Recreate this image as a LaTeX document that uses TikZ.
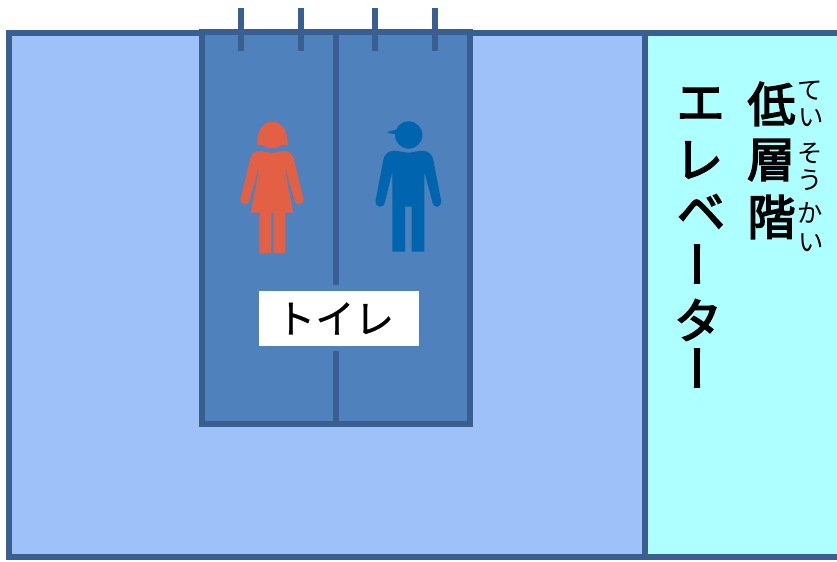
\documentclass[tikz,border=0pt]{standalone}
\usepackage{fontspec}
\setmainfont{Noto Sans CJK JP}
\newfontfamily\jpb[FakeBold=3.2]{Noto Sans CJK JP}
\newfontfamily\jpm[FakeBold=0.8]{Noto Sans CJK JP}
\definecolor{wallfill}{HTML}{9FC1F9}
\definecolor{liftfill}{HTML}{AEFFFF}
\definecolor{roomfill}{HTML}{4F81BD}
\definecolor{edgeblue}{HTML}{385F90}
\definecolor{womanred}{HTML}{E36044}
\definecolor{manblue}{HTML}{0065AE}
\tikzset{
  wall/.style={draw=edgeblue,line width=3.9pt,line join=miter},
  tickline/.style={draw=edgeblue,line width=3.9pt},
  bigch/.style={inner sep=0pt,font=\fontsize{36pt}{36pt}\selectfont\jpb},
  rubych/.style={inner sep=0pt,font=\fontsize{19pt}{20pt}\selectfont},
  labelbox/.style={fill=white,inner sep=0pt,minimum width=120pt,minimum height=41.25pt,font=\fontsize{29.5pt}{30pt}\selectfont\jpm}
}
\begin{document}
\begin{tikzpicture}[x=0.75pt,y=-0.75pt]
\useasboundingbox (0,0) rectangle (837,561);
% panels
\path[wall,fill=wallfill] (9,33) rectangle (645,557);
\path[wall,fill=liftfill] (645,33) -- (845,33) -- (845,557) -- (645,557) -- cycle;
\path[wall,fill=roomfill] (202,32) rectangle (470,424);
% divider
\coordinate (divtop) at (336,32);
\coordinate (divbot) at (336,424);
\node[labelbox] (toilet) at (339,318.5) {\hspace*{-6pt}トイレ};
\coordinate (gapa) at (336,285);
\coordinate (gapb) at (336,351);
\draw[tickline] (divtop) -- (gapa);
\draw[tickline] (gapb) -- (divbot);
% ticks
\foreach \x in {241,301,375,435}{
  \draw[tickline] (\x,8) -- (\x,51);
}
% woman
\fill[womanred] (257.3,145) .. controls (257,130) and (263,121.7) .. (272.3,121.7)
  .. controls (281.5,121.7) and (288,130) .. (287.7,145)
  -- (281,145) .. controls (278,149.5) and (266.5,149.5) .. (263.5,145) -- cycle;
\fill[womanred] (272.3,152.7) .. controls (268,152.7) and (264,151) .. (258.5,151)
  .. controls (254,151) and (251,155) .. (250,160)
  -- (240.7,198.3) .. controls (239.5,205) and (248,207) .. (249.5,200)
  -- (258.3,169.3) -- (259,169.3) -- (250.7,212.7) -- (259.3,212.7) -- (259.3,253.3) -- (271.3,253.3) -- (271.3,212.7)
  -- (273.7,212.7) -- (273.7,253.3) -- (285.3,253.3) -- (285.3,212.7) -- (293.3,212.7)
  -- (285,169.3) -- (285.7,169.3)
  -- (294.5,200) .. controls (296,207) and (304.5,205) .. (303.3,198.3)
  -- (294,160) .. controls (293,155) and (290,151) .. (285.5,151)
  .. controls (280,151) and (276.5,152.7) .. (272.3,152.7) -- cycle;
% man
\fill[manblue] (408.7,135) circle[radius=13.7];
\fill[manblue] (387.3,132) -- (397,129.5) -- (396,134) .. controls (392,134) and (389,133.5) .. (387.3,132) -- cycle;
\fill[manblue] (408.3,152.7) .. controls (404,152.7) and (400,150.7) .. (394,150.7)
  .. controls (388,150.7) and (384,155) .. (383.3,160)
  -- (375.7,200) .. controls (374.5,208.5) and (384,209) .. (385,201.7)
  -- (392.3,171.7) -- (392.3,251.7) -- (405,251.7) -- (405,206.7) -- (411.7,206.7) -- (411.7,251.7) -- (424.3,251.7) -- (424.3,171.7)
  -- (432.3,201.7) .. controls (433.5,209) and (442,208.5) .. (441,200)
  -- (433.3,160) .. controls (432.5,155) and (428.5,150.7) .. (422.5,150.7)
  .. controls (416.5,150.7) and (412.5,152.7) .. (408.3,152.7) -- cycle;
% elevator
\node[bigch] (e1) at (700.5,104) {エ};
\node[bigch] (e2) at (699,160) {レ};
\node[bigch] (e3) at (701,212) {ベ};
\node[bigch,rotate=-90] (e4) at (689,264) {ー};
\node[bigch] (e5) at (698,320) {タ};
\node[bigch,rotate=-90] (e6) at (689,368) {ー};
% low floor
\node[bigch] (k1) at (771.5,104) {低};
\node[bigch] (k2) at (771,160) {層};
\node[bigch] (k3) at (771.5,217) {階};
% ruby
\node[rubych] (r1) at (810.5,91) {て};
\node[rubych] (r2) at (811,118) {い};
\node[rubych] (r3) at (810.5,153) {そ};
\node[rubych] (r4) at (810.5,180) {う};
\node[rubych] (r5) at (810,213) {か};
\node[rubych] (r6) at (811,243) {い};
\end{tikzpicture}
\end{document}
